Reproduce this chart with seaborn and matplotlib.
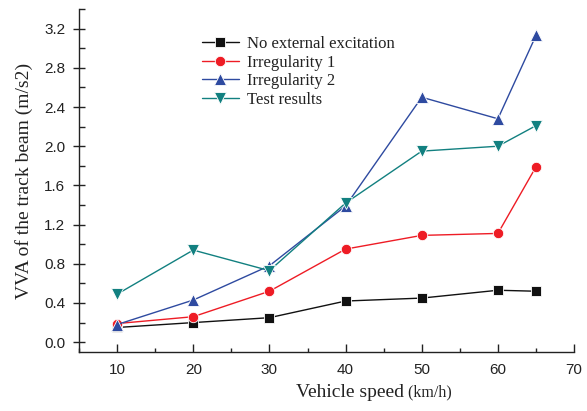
import matplotlib
matplotlib.use("Agg")
import matplotlib.pyplot as plt
from matplotlib.ticker import MultipleLocator
import seaborn as sns
import pandas as pd

speed = [10, 20, 30, 40, 50, 60, 65]
no_excitation = [0.15, 0.20, 0.25, 0.42, 0.45, 0.53, 0.52]
irregularity_1 = [0.19, 0.26, 0.52, 0.95, 1.09, 1.11, 1.79]
irregularity_2 = [0.18, 0.43, 0.78, 1.39, 2.50, 2.28, 3.13]
test_results = [0.49, 0.94, 0.73, 1.42, 1.95, 2.00, 2.21]

series_names = ["No external excitation", "Irregularity 1", "Irregularity 2", "Test results"]
series_values = [no_excitation, irregularity_1, irregularity_2, test_results]
colors = ["#111111", "#ee1c25", "#2e4aa0", "#128080"]
markers = ["s", "o", "^", "v"]
marker_sizes = [6.5, 7.5, 8.5, 8.5]

rows = []
for name, vals in zip(series_names, series_values):
    for s, v in zip(speed, vals):
        rows.append({"speed": s, "vva": v, "series": name})
df = pd.DataFrame(rows)

sns.set_style("ticks")
fig = plt.figure(figsize=(5.87, 4.11), dpi=100)
ax = fig.add_axes([0.1346, 0.1436, 0.978 - 0.1346, 0.978 - 0.1436])

sns.lineplot(data=df, x="speed", y="vva", hue="series", style="series",
             hue_order=series_names, style_order=series_names,
             palette=colors, markers=markers, dashes=False,
             markersize=8, linewidth=1.0, markeredgewidth=0.6,
             ax=ax)

# per-series marker sizes
for line, ms in zip(ax.get_lines(), marker_sizes):
    line.set_markersize(ms)

ax.set_xlim(5, 70)
ax.set_ylim(-0.1, 3.4)
ax.xaxis.set_minor_locator(MultipleLocator(5))
ax.yaxis.set_minor_locator(MultipleLocator(0.2))
ax.set_xticks([10, 20, 30, 40, 50, 60, 70])
yticks = [0.0, 0.4, 0.8, 1.2, 1.6, 2.0, 2.4, 2.8, 3.2]
ax.set_yticks(yticks)
ax.set_yticklabels([f"{v:.1f}" for v in yticks])

for sp in ["top", "right"]:
    ax.spines[sp].set_visible(False)
for sp in ["left", "bottom"]:
    ax.spines[sp].set_linewidth(1.0)
    ax.spines[sp].set_color("#222222")

ax.tick_params(axis="x", which="major", direction="in", length=6, width=1.0,
               labelsize=11, pad=8, colors="#222222")
ax.tick_params(axis="x", which="minor", direction="in", length=3, width=1.0, colors="#222222")
ax.tick_params(axis="y", which="major", direction="inout", length=8, width=1.0,
               labelsize=11, pad=6, colors="#222222")
ax.tick_params(axis="y", which="minor", direction="in", length=4, width=1.0, colors="#222222")
for lab in ax.get_xticklabels() + ax.get_yticklabels():
    lab.set_fontfamily("Liberation Sans")

serif = "Liberation Serif"
ax.set_ylabel("VVA of the track beam (m/s2)", fontsize=14, fontfamily=serif, labelpad=8,
              color="#222222")
ax.set_xlabel("")
fig.text(0.688, 0.035, "Vehicle speed", fontsize=14, fontfamily=serif, ha="right",
         va="baseline", color="#222222")
fig.text(0.688, 0.035, " (km/h)", fontsize=11.5, fontfamily=serif, ha="left",
         va="baseline", color="#222222")

leg = ax.legend(loc="upper left", bbox_to_anchor=(0.235, 0.94), frameon=False,
                prop={"family": serif, "size": 12}, handlelength=2.2,
                handletextpad=0.5, labelspacing=0.15, borderaxespad=0)
for t in leg.get_texts():
    t.set_color("#222222")
for h, ms in zip(leg.legend_handles, marker_sizes):
    h.set_markersize(ms)

fig.savefig("out.png", dpi=100)
